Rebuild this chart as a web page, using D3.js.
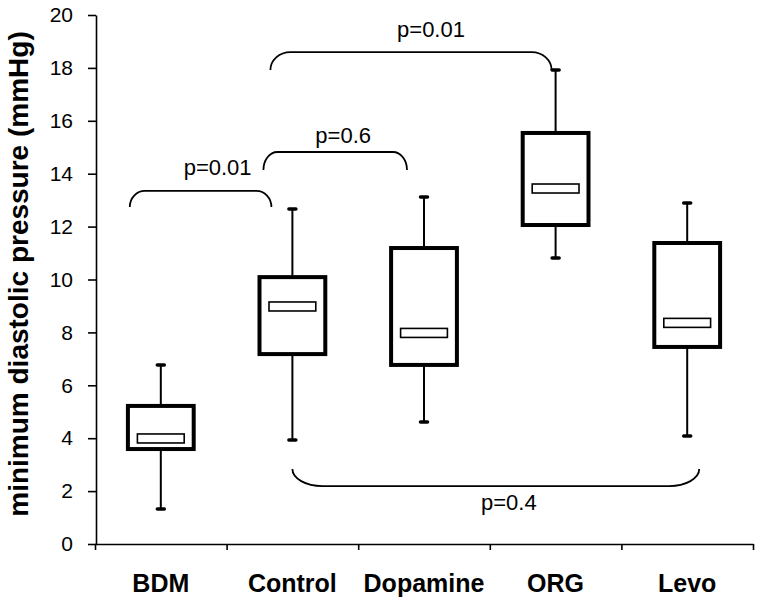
<!DOCTYPE html>
<html>
<head>
<meta charset="utf-8">
<script src="https://cdn.jsdelivr.net/npm/d3@7"></script>
<style>
  html, body { margin: 0; padding: 0; background: #fff; }
  svg { display: block; }
</style>
</head>
<body>
<svg id="chart" width="762" height="604"></svg>
<script>
// ---- data ----
const categories = ["BDM", "Control", "Dopamine", "ORG", "Levo"];
const whiskerLow  = [1.32, 3.93, 4.61, 10.81, 4.08];
const boxLow      = [3.59, 7.18, 6.77, 12.06, 7.45];
const medians     = [3.99, 8.98, 7.98, 13.44, 8.36];
const boxHigh     = [5.22, 10.09, 11.19, 15.54, 11.38];
const whiskerHigh = [6.77, 12.67, 13.12, 17.92, 12.89];
const yTicks = [0, 2, 4, 6, 8, 10, 12, 14, 16, 18, 20];
const yTitle = "minimum diastolic pressure (mmHg)";

const bracketFrom   = ["BDM", "Control", "Control", "Control"];
const bracketTo     = ["Control", "Dopamine", "ORG", "Levo"];
const bracketLevel  = [13.35, 14.82, 18.6, 2.19];   // mmHg level of the bracket bar
const bracketLabels = ["p=0.01", "p=0.6", "p=0.01", "p=0.4"];

// ---- drawing config (pixels) ----
const bracketStyle = [
  { dx1: -31, dx2: -21, rx: 15, depth: 16, dir: -1, lx: 17, ly: -16 },
  { dx1: -29, dx2: -17, rx: 14, depth: 18, dir: -1, lx: 8,  ly: -9 },
  { dx1: -22, dx2: -4,  rx: 20, depth: 18, dir: -1, lx: 20, ly: -15 },
  { dx1: 0,   dx2: 12,  rx: 30, depth: 17, dir: 1,  lx: 13, ly: 24 }
];

const svg = d3.select("#chart");
const mLeft = 95, mRight = 753, mTop = 15, mBottom = 544;

const x = d3.scaleBand().domain(categories).range([mLeft, mRight]).paddingInner(0).paddingOuter(0);
const xEdge = d3.scaleLinear().domain([0, categories.length]).range([mLeft, mRight]);
const y = d3.scaleLinear().domain([0, 20]).range([mBottom, mTop]);

// y axis
const yAxis = svg.append("g")
  .attr("transform", `translate(${mLeft + 1},0)`)
  .call(d3.axisLeft(y).tickValues(yTicks).tickSize(8).tickPadding(15).tickSizeOuter(0));
yAxis.select(".domain").attr("stroke", "#000").attr("stroke-width", 1.6);
yAxis.selectAll(".tick line").attr("stroke", "#000").attr("stroke-width", 1.6);
yAxis.selectAll(".tick text")
  .attr("font-family", "'Liberation Sans', Arial, sans-serif")
  .attr("font-size", 21).attr("fill", "#000");

// x axis (ticks on category boundaries)
const xAxis = svg.append("g")
  .attr("transform", `translate(0,${mBottom})`)
  .call(d3.axisBottom(xEdge).tickValues(d3.range(categories.length + 1)).tickFormat("").tickSize(6).tickSizeOuter(0));
xAxis.select(".domain").attr("stroke", "#000").attr("stroke-width", 1.6);
xAxis.selectAll(".tick line").attr("stroke", "#000").attr("stroke-width", 1.6);

// category labels
svg.append("g").selectAll("text").data(categories).join("text")
  .attr("x", d => x(d) + x.bandwidth() / 2)
  .attr("y", 592)
  .attr("text-anchor", "middle")
  .attr("font-family", "'Liberation Sans', Arial, sans-serif")
  .attr("font-weight", "bold")
  .attr("font-size", 25)
  .attr("fill", "#000")
  .text(d => d);

// y title
svg.append("text")
  .attr("transform", `translate(28,274) rotate(-90)`)
  .attr("text-anchor", "middle")
  .attr("font-family", "'Liberation Sans', Arial, sans-serif")
  .attr("font-weight", "bold")
  .attr("font-size", 28)
  .attr("fill", "#000")
  .text(yTitle);

// boxes
const boxW = x.bandwidth() * 0.5;
const medInset = 9.5, medH = 9;
const g = svg.append("g");
categories.forEach((c, i) => {
  const cx = x(c) + x.bandwidth() / 2;
  g.append("line").attr("x1", cx).attr("x2", cx)
    .attr("y1", y(boxHigh[i])).attr("y2", y(whiskerHigh[i]))
    .attr("stroke", "#000").attr("stroke-width", 2);
  g.append("line").attr("x1", cx).attr("x2", cx)
    .attr("y1", y(boxLow[i])).attr("y2", y(whiskerLow[i]))
    .attr("stroke", "#000").attr("stroke-width", 2);
  [whiskerHigh[i], whiskerLow[i]].forEach(v => {
    g.append("line").attr("x1", cx - 3.5).attr("x2", cx + 3.5)
      .attr("y1", y(v)).attr("y2", y(v))
      .attr("stroke", "#000").attr("stroke-width", 3.5).attr("stroke-linecap", "round");
  });
  g.append("rect")
    .attr("x", cx - boxW / 2).attr("width", boxW)
    .attr("y", y(boxHigh[i])).attr("height", y(boxLow[i]) - y(boxHigh[i]))
    .attr("fill", "#fff").attr("stroke", "#000").attr("stroke-width", 4);
  g.append("rect")
    .attr("x", cx - boxW / 2 + medInset).attr("width", boxW - 2 * medInset)
    .attr("y", y(medians[i]) - medH / 2).attr("height", medH)
    .attr("fill", "#fff").attr("stroke", "#000").attr("stroke-width", 1.6);
});

// significance brackets
const bg = svg.append("g");
bracketFrom.forEach((f, i) => {
  const s = bracketStyle[i];
  const x1 = x(f) + x.bandwidth() / 2 + s.dx1;
  const x2 = x(bracketTo[i]) + x.bandwidth() / 2 + s.dx2;
  const yb = y(bracketLevel[i]);
  const ye = yb - s.dir * s.depth;
  const sweep = s.dir < 0 ? 1 : 0;
  const p = `M${x1},${ye} A${s.rx},${s.depth} 0 0 ${sweep} ${x1 + s.rx},${yb} L${x2 - s.rx},${yb} A${s.rx},${s.depth} 0 0 ${sweep} ${x2},${ye}`;
  bg.append("path").attr("d", p).attr("fill", "none").attr("stroke", "#000").attr("stroke-width", 1.8);
  bg.append("text")
    .attr("x", (x1 + x2) / 2 + s.lx)
    .attr("y", yb + s.ly)
    .attr("text-anchor", "middle")
    .attr("font-family", "'Liberation Sans', Arial, sans-serif")
    .attr("font-size", 22)
    .attr("fill", "#000")
    .text(bracketLabels[i]);
});
</script>
</body>
</html>
